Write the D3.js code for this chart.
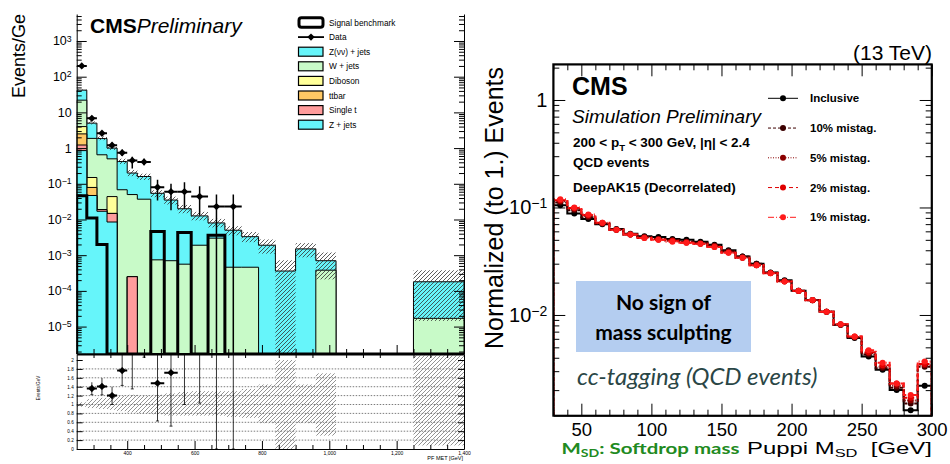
<!DOCTYPE html>
<html><head><meta charset="utf-8">
<script src="https://cdn.jsdelivr.net/npm/d3@7"></script>
<style>body{margin:0;background:#fff}svg{display:block}</style>
</head><body><svg id="c" width="950" height="464"></svg>
<script>
// ================= LEFT CHART DATA (PF MET) =================
const metEdges = [250,280,310,340,370,400,430,470,510,550,590,640,690,740,790,840,900,960,1020,1250,1400];
const zJets   = [0.85,0.047,0.017,0.0085,0,0,0,0,0,0,0,0,0,0,0,0,0,0,0,0];
const singleT = [0.37,0,0.002,0.0063,0,0.00025,0,0,0,0,0,0,0,0,0,0,0,0,0,0];
const ttbar   = [1.28,0.032,0,0,0,0,0,0,0,0,0,0,0,0,0,0,0,0,0,0];
const diboson = [1.5,0.071,0,0.029,0,0,0,0,0,0,0,0,0,0,0,0,0,0,0,0];
const wJets   = [18,1.72,0.63,0.456,0.068,0.0497,0.037,0.00074,0.0007,0.00056,0.0019,0.003,0.00046,0.00046,0,0,0,0.00038,0,0.000017];
const zNuNu   = [20,3.13,1.2,0.5,0.352,0.15,0.123,0.0533,0.0343,0.0194,0.0107,0.005,0.00454,0.00284,0.0019,0.00036,0.0015,0.00032,0,0.000163];
const signalBM= [0.046,0.011,0.002,0,0,0,0,0.0046,0,0.0043,0,0.0036,0,0,0,0,0,0,0,0];
const uncDn   = [0.05,0.08,0.1,0.12,0.15,0.18,0.2,0.22,0.25,0.25,0.25,0.25,0.28,0.3,0.42,1.0,0.42,0.7,0,0.92];
const uncUp   = [0.05,0.12,0.15,0.2,0.2,0.22,0.2,0.22,0.25,0.28,0.3,0.3,0.3,0.35,0.45,1.0,0.45,0.7,0,1.1];
const dataVal = [200,6.8,2.6,1.2,0.74,0.45,0.41,0.08,0.06,0.06,0.044,0.023,0.023];
const dataLo  = [186,6.1,2.25,1.0,0.6,0.27,0.33,0.034,0.018,0.02,0.013,0,0];
const dataHi  = [214,7.5,2.95,1.4,0.9,0.57,0.5,0.13,0.1,0.11,0.085,0.05,0.05];
const stackNames  = ["Z + jets","Single t","ttbar","Diboson","W + jets","Z(νν) + jets"];
const stackColors = ["#66f5fa","#ff9c9c","#ffc864","#ffff99","#c8fac8","#66f5fa"];
const legendNames = ["Signal benchmark","Data","Z(νν) + jets","W + jets","Diboson","ttbar","Single t","Z + jets"];
const metTicks = [400,600,800,1000,1200,1400];
const ratioTicks = [0,0.2,0.4,0.6,0.8,1,1.2,1.4,1.6,1.8,2];

// ================= RIGHT CHART DATA (Softdrop mass) =================
const msdCenters = [35,45,55,65,75,85,95,105,115,125,135,145,155,165,175,185,195,205,215,225,235,245,255,265,275,285,295];
const inclusive = [0.105,0.088,0.078,0.070,0.063,0.057,0.054,0.053,0.051,0.050,0.048,0.045,0.040,0.035,0.030,0.0248,0.021,0.0168,0.0138,0.0107,0.0081,0.0061,0.0041,0.0031,0.0020,0.0013,0.0022];
const mis10 = [0.111,0.094,0.081,0.071,0.062,0.056,0.053,0.051,0.050,0.048,0.047,0.044,0.039,0.035,0.030,0.0247,0.0207,0.0168,0.0137,0.0107,0.0081,0.0062,0.0043,0.0032,0.0021,0.0015,0.0033];
const mis5  = [0.114,0.097,0.083,0.071,0.062,0.056,0.053,0.051,0.049,0.048,0.046,0.044,0.039,0.034,0.029,0.0246,0.0206,0.0167,0.0137,0.0107,0.0081,0.0062,0.0044,0.0033,0.0022,0.0016,0.0034];
const mis2  = [0.117,0.099,0.085,0.072,0.062,0.056,0.052,0.050,0.049,0.047,0.046,0.043,0.038,0.034,0.029,0.0245,0.0205,0.0167,0.0137,0.0107,0.0082,0.0063,0.0045,0.0034,0.0023,0.0017,0.0035];
const mis1  = [0.119,0.100,0.086,0.072,0.062,0.056,0.052,0.050,0.048,0.047,0.046,0.043,0.038,0.034,0.029,0.0245,0.0205,0.0168,0.0138,0.0107,0.0082,0.0063,0.0047,0.0036,0.0023,0.0018,0.0037];
const seriesNames  = ["Inclusive","10% mistag.","5% mistag.","2% mistag.","1% mistag."];
const seriesColors = ["#000000","#3c0000","#8b0000","#e00000","#ff1a1a"];
const seriesDash   = [null,"3,2","1,1.5","4,3","6,2,1,2"];
const msdTicks = [50,100,150,200,250,300];

// ================= DRAW =================
const FONT = "'Liberation Sans', Arial, Helvetica, sans-serif";
const SLIDE = "Lato, 'Open Sans', sans-serif";
const svg = d3.select("#c").attr("font-family", FONT);
const defs = svg.append("defs");
function hatch(id, color, sw){
  defs.append("pattern").attr("id",id).attr("patternUnits","userSpaceOnUse").attr("width",4).attr("height",4)
    .append("path").attr("d","M-1,1 l2,-2 M0,4 l4,-4 M3,5 l2,-2").attr("stroke",color).attr("stroke-width",sw).attr("fill","none");
}
hatch("hMain","#333",0.8);
hatch("hRatio","#777",0.8);
function fitWidth(sel, x, y, w){
  const len = sel.node().getComputedTextLength();
  sel.attr("transform",`translate(${x},${y}) scale(${w/len},1)`);
}

// ---------- LEFT ----------
const L = {x0:76.7, x1:464, yTop:14, yMid:354, yBot:449};
const xL = d3.scaleLinear().domain([250,1400]).range([L.x0,L.x1]);
const yL = d3.scaleLog().domain([Math.pow(10,-5.768),Math.pow(10,3.756)]).range([L.yMid,L.yTop]).clamp(true);
const ly = v => v>0 ? yL(v) : L.yMid;
const yRt = d3.scaleLinear().domain([0,2.135]).range([L.yBot,L.yMid]);
const nb = metEdges.length-1;
const comps = [zJets,singleT,ttbar,diboson,wJets,zNuNu];
const cum = comps.map((c,k)=>d3.range(nb).map(i=>d3.sum(comps.slice(0,k+1),a=>a[i])));
const total = cum[5];

defs.append("clipPath").attr("id","clipMain").append("rect").attr("x",L.x0).attr("y",L.yTop).attr("width",L.x1-L.x0).attr("height",L.yMid-L.yTop);
defs.append("clipPath").attr("id","clipRatio").append("rect").attr("x",L.x0).attr("y",L.yMid).attr("width",L.x1-L.x0).attr("height",L.yBot-L.yMid);

const gM = svg.append("g").attr("clip-path","url(#clipMain)");
function stepPts(vals){ const p=[]; vals.forEach((v,i)=>{p.push([metEdges[i],v]);p.push([metEdges[i+1],v]);}); return p; }
const area = d3.area().x(d=>xL(d[0])).y0(L.yMid).y1(d=>ly(d[1]));
for(let k=5;k>=0;k--){
  gM.append("path").attr("d",area(stepPts(cum[k]))).attr("fill",stackColors[k]).attr("stroke","#000").attr("stroke-width",1);
}
gM.selectAll("rect.unc").data(d3.range(nb).filter(i=>total[i]>0)).join("rect")
  .attr("x",i=>xL(metEdges[i])).attr("width",i=>xL(metEdges[i+1])-xL(metEdges[i]))
  .attr("y",i=>ly(total[i]*(1+uncUp[i]))).attr("height",i=>ly(total[i]*(1-uncDn[i]))-ly(total[i]*(1+uncUp[i])))
  .attr("fill","url(#hMain)");
const sigPts=[[metEdges[0],0]].concat(stepPts(signalBM));
gM.append("path").attr("d",d3.line().x(d=>xL(d[0])).y(d=>ly(d[1]))(sigPts))
  .attr("fill","none").attr("stroke","#000").attr("stroke-width",3).attr("stroke-linejoin","miter");
const diamond = d3.symbol().type(d3.symbolDiamond2 || d3.symbolDiamond).size(34);
const gD = gM.append("g");
dataVal.forEach((v,i)=>{
  const xc = xL((metEdges[i]+metEdges[i+1])/2);
  gD.append("line").attr("x1",xL(metEdges[i])).attr("x2",xL(metEdges[i+1])).attr("y1",ly(v)).attr("y2",ly(v)).attr("stroke","#000").attr("stroke-width",2);
  gD.append("line").attr("x1",xc).attr("x2",xc).attr("y1",ly(dataLo[i])).attr("y2",ly(dataHi[i])).attr("stroke","#000").attr("stroke-width",1.5);
  gD.append("path").attr("d",diamond).attr("transform",`translate(${xc},${ly(v)})`).attr("fill","#000");
});
// ratio panel
const gR = svg.append("g").attr("clip-path","url(#clipRatio)");
ratioTicks.slice(1,-1).forEach(t=>{
  gR.append("line").attr("x1",L.x0).attr("x2",L.x1).attr("y1",yRt(t)).attr("y2",yRt(t)).attr("stroke","#444").attr("stroke-width",0.7).attr("stroke-dasharray","1.5,1.5");
});
gR.selectAll("rect.runc").data(d3.range(nb).filter(i=>total[i]>0)).join("rect")
  .attr("x",i=>xL(metEdges[i])).attr("width",i=>xL(metEdges[i+1])-xL(metEdges[i]))
  .attr("y",i=>yRt(1+uncUp[i])).attr("height",i=>yRt(1-uncDn[i])-yRt(1+uncUp[i]))
  .attr("fill","url(#hRatio)");
dataVal.forEach((v,i)=>{
  const xc = xL((metEdges[i]+metEdges[i+1])/2), t=total[i];
  const r=v/t;
  gR.append("line").attr("x1",xc).attr("x2",xc).attr("y1",yRt(dataLo[i]/t)).attr("y2",yRt(Math.min(dataHi[i]/t,3))).attr("stroke","#000").attr("stroke-width",0.8);
  gR.append("line").attr("x1",xc-1.5).attr("x2",xc+1.5).attr("y1",yRt(dataLo[i]/t)).attr("y2",yRt(dataLo[i]/t)).attr("stroke","#000").attr("stroke-width",0.8);
  if(r<2.13){
    gR.append("line").attr("x1",xL(metEdges[i])).attr("x2",xL(metEdges[i+1])).attr("y1",yRt(r)).attr("y2",yRt(r)).attr("stroke","#000").attr("stroke-width",2);
    gR.append("path").attr("d",diamond).attr("transform",`translate(${xc},${yRt(r)})`).attr("fill","#000");
  }
});

// axes left chart
function minorLog(lo,hi){ const a=[]; for(let e=Math.floor(Math.log10(lo));e<=Math.ceil(Math.log10(hi));e++) for(let m=2;m<=9;m++){const v=m*Math.pow(10,e); if(v>=lo&&v<=hi)a.push(v);} return a; }
function supLabels(g, fs){
  g.selectAll(".tick text").each(function(d){
    const e=Math.round(Math.log10(d)); const t=d3.select(this); t.text(null);
    if(e===0) t.text("1"); else if(e===1) t.text("10");
    else { t.append("tspan").text("10"); t.append("tspan").attr("dy","-0.45em").attr("font-size",(fs*0.7)+"px").text(e<0?"\u2212"+(-e):String(e)); }
  });
}
const decL = d3.range(-5,4).map(e=>Math.pow(10,e));
const minL = minorLog(yL.domain()[0],yL.domain()[1]);
const axY = svg.append("g").attr("transform",`translate(${L.x0},0)`)
  .call(d3.axisLeft(yL).tickValues(decL).tickSize(-10).tickSizeOuter(0).tickPadding(5).tickFormat(()=>""));
axY.selectAll("text").attr("font-size","12.5px").attr("font-family",FONT);
supLabels(axY,12.5);
svg.append("g").attr("transform",`translate(${L.x0},0)`).call(d3.axisLeft(yL).tickValues(minL).tickSize(-5).tickSizeOuter(0).tickFormat(()=>"")).select(".domain").remove();
svg.append("g").attr("transform",`translate(${L.x1},0)`).call(d3.axisRight(yL).tickValues(decL).tickSize(-10).tickSizeOuter(0).tickFormat(()=>""));
svg.append("g").attr("transform",`translate(${L.x1},0)`).call(d3.axisRight(yL).tickValues(minL).tickSize(-5).tickSizeOuter(0).tickFormat(()=>"")).select(".domain").remove();
const axRy = svg.append("g").attr("transform",`translate(${L.x0},0)`)
  .call(d3.axisLeft(yRt).tickValues(ratioTicks).tickSize(-6).tickSizeOuter(0).tickPadding(3).tickFormat(d=>d===0||d===1||d===2?String(d):d3.format(".1f")(d)));
axRy.selectAll("text").attr("font-size","4.6px").attr("font-family",FONT);
svg.append("g").attr("transform",`translate(${L.x1},0)`).call(d3.axisRight(yRt).tickValues(ratioTicks).tickSize(-6).tickSizeOuter(0).tickFormat(()=>""));
const metMinor = d3.range(300,1400,50).filter(v=>!metTicks.includes(v));
svg.append("g").attr("transform",`translate(0,${L.yMid})`).call(d3.axisBottom(xL).tickValues(metTicks).tickSize(-9).tickSizeOuter(0).tickFormat(()=>"")).select(".domain").attr("stroke-width",2.2);
svg.append("g").attr("transform",`translate(0,${L.yMid})`).call(d3.axisBottom(xL).tickValues(metMinor).tickSize(-5).tickSizeOuter(0).tickFormat(()=>"")).select(".domain").remove();
const axX = svg.append("g").attr("transform",`translate(0,${L.yBot})`).call(d3.axisBottom(xL).tickValues(metTicks).tickSize(-8).tickSizeOuter(0).tickPadding(2.5));
axX.selectAll("text").attr("font-size","5px").attr("font-family",FONT);
svg.append("g").attr("transform",`translate(0,${L.yBot})`).call(d3.axisBottom(xL).tickValues(metMinor).tickSize(-4).tickSizeOuter(0).tickFormat(()=>"")).select(".domain").remove();
svg.append("g").attr("transform",`translate(0,${L.yMid})`).call(d3.axisTop(xL).tickValues(metMinor).tickSize(-4).tickSizeOuter(0).tickFormat(()=>"")).select(".domain").remove();

// left texts
svg.append("text").attr("transform","translate(25,98) rotate(-90)").attr("font-size","18px").text("Events/Ge");
svg.append("text").attr("transform","translate(40,388) rotate(-90)").attr("font-size","4.6px").attr("text-anchor","middle").text("Events/GeV");
svg.append("text").attr("x",463).attr("y",460).attr("text-anchor","end").attr("font-size","5.5px").text("PF MET [GeV]");
const cmsL = svg.append("text").attr("x",90).attr("y",33).attr("font-size","21px");
cmsL.append("tspan").attr("font-weight","bold").text("CMS");
cmsL.append("tspan").attr("font-style","italic").text("Preliminary");

// left legend
const legY = i=>22.5+i*14.6;
legendNames.forEach((n,i)=>{
  const y=legY(i);
  if(i===0){
    svg.append("rect").attr("x",299).attr("y",y-4.8).attr("width",24).attr("height",9.6).attr("rx",2.5).attr("fill","#fff").attr("stroke","#000").attr("stroke-width",3);
  } else if(i===1){
    svg.append("line").attr("x1",298).attr("x2",324).attr("y1",y).attr("y2",y).attr("stroke","#000").attr("stroke-width",1.8);
    svg.append("path").attr("d",diamond).attr("transform",`translate(311,${y})`).attr("fill","#000");
  } else {
    const k = stackNames.indexOf(n);
    svg.append("rect").attr("x",298.5).attr("y",y-4.5).attr("width",24.5).attr("height",9).attr("fill",stackColors[k]).attr("stroke","#000").attr("stroke-width",1.2);
  }
  svg.append("text").attr("x",329).attr("y",y+3).attr("font-size","8.3px").text(n);
});

// ---------- RIGHT ----------
const R = {x0:553.3, x1:931.7, y0:64.3, y1:415.7};
const xR = d3.scaleLinear().domain([30,300]).range([R.x0,R.x1]);
const yR = d3.scaleLog().domain([Math.pow(10,-2.937),Math.pow(10,0.332)]).range([R.y1,R.y0]).clamp(true);
defs.append("clipPath").attr("id","clipR").append("rect").attr("x",R.x0).attr("y",R.y0).attr("width",R.x1-R.x0).attr("height",R.y1-R.y0);

svg.append("rect").attr("x",576).attr("y",281).attr("width",175).attr("height",71).attr("fill","#b4cdf0");
svg.append("text").attr("x",663.5).attr("y",310).attr("text-anchor","middle").attr("font-family",SLIDE).attr("font-weight","bold").attr("font-size","21px").text("No sign of");
svg.append("text").attr("x",663.5).attr("y",340).attr("text-anchor","middle").attr("font-family",SLIDE).attr("font-weight","bold").attr("font-size","21px").text("mass sculpting");
svg.append("text").attr("x",577).attr("y",385).attr("font-family",SLIDE).attr("font-style","italic").attr("font-size","24px").attr("fill","#2a4646").text("cc-tagging (QCD events)");

const gS = svg.append("g").attr("clip-path","url(#clipR)");
const allSeries = [inclusive,mis10,mis5,mis2,mis1];
const sline = d3.line().x(d=>xR(d[0])).y(d=>d[1]>0?yR(d[1]):R.y1);
allSeries.forEach((vals,s)=>{
  const pts=[[30,0]]; vals.forEach((v,i)=>{pts.push([msdCenters[i]-5,v]);pts.push([msdCenters[i]+5,v]);});
  pts.push([300,0]);
  gS.append("path").attr("d",sline(pts)).attr("fill","none").attr("stroke",seriesColors[s]).attr("stroke-width",2)
    .attr("stroke-dasharray",seriesDash[s]);
  gS.selectAll(null).data(vals).join("circle").attr("cx",(v,i)=>xR(msdCenters[i])).attr("cy",v=>yR(v)).attr("r",3).attr("fill",seriesColors[s]);
});

const decR=[0.01,0.1,1], minR=minorLog(yR.domain()[0],yR.domain()[1]);
const axYR = svg.append("g").attr("transform",`translate(${R.x0},0)`)
  .call(d3.axisLeft(yR).tickValues(decR).tickSize(-12).tickSizeOuter(0).tickPadding(6).tickFormat(()=>""));
axYR.selectAll("text").attr("font-size","20px").attr("font-family",FONT);
supLabels(axYR,20);
svg.append("g").attr("transform",`translate(${R.x0},0)`).call(d3.axisLeft(yR).tickValues(minR).tickSize(-6).tickSizeOuter(0).tickFormat(()=>"")).select(".domain").remove();
svg.append("g").attr("transform",`translate(${R.x1},0)`).call(d3.axisRight(yR).tickValues(decR).tickSize(-12).tickSizeOuter(0).tickFormat(()=>""));
svg.append("g").attr("transform",`translate(${R.x1},0)`).call(d3.axisRight(yR).tickValues(minR).tickSize(-6).tickSizeOuter(0).tickFormat(()=>"")).select(".domain").remove();
const msdMinor = d3.range(30,300,10).filter(v=>!msdTicks.includes(v));
const axXR = svg.append("g").attr("transform",`translate(0,${R.y1})`).call(d3.axisBottom(xR).tickValues(msdTicks).tickSize(-12).tickSizeOuter(0).tickPadding(7.5));
axXR.selectAll("text").attr("font-size","18.5px").attr("font-family",FONT).attr("dy","0.68em");
svg.append("g").attr("transform",`translate(0,${R.y1})`).call(d3.axisBottom(xR).tickValues(msdMinor).tickSize(-6).tickSizeOuter(0).tickFormat(()=>"")).select(".domain").remove();
svg.append("g").attr("transform",`translate(0,${R.y0})`).call(d3.axisTop(xR).tickValues(msdTicks).tickSize(-12).tickSizeOuter(0).tickFormat(()=>""));
svg.append("g").attr("transform",`translate(0,${R.y0})`).call(d3.axisTop(xR).tickValues(msdMinor).tickSize(-6).tickSizeOuter(0).tickFormat(()=>"")).select(".domain").remove();
svg.append("rect").attr("x",R.x0).attr("y",R.y0).attr("width",R.x1-R.x0).attr("height",R.y1-R.y0).attr("fill","none").attr("stroke","#000").attr("stroke-width",2);

svg.append("text").attr("x",932).attr("y",60).attr("text-anchor","end").attr("font-size","21px").text("(13 TeV)");
svg.append("text").attr("x",572).attr("y",95).attr("font-size","25px").attr("font-weight","bold").text("CMS");
svg.append("text").attr("x",572).attr("y",123).attr("font-size","19px").attr("font-style","italic").text("Simulation Preliminary");
const t1 = svg.append("text").attr("x",573).attr("y",147).attr("font-size","13.5px").attr("font-weight","bold");
t1.append("tspan").text("200 < p");
t1.append("tspan").attr("dy","4").attr("font-size","9.5px").text("T");
t1.append("tspan").attr("dy","-4").text(" < 300 GeV, |η| < 2.4");
svg.append("text").attr("x",573).attr("y",167).attr("font-size","13.5px").attr("font-weight","bold").text("QCD events");
svg.append("text").attr("x",573).attr("y",192).attr("font-size","13.5px").attr("font-weight","bold").text("DeepAK15 (Decorrelated)");
svg.append("text").attr("transform","translate(503,208) rotate(-90)").attr("text-anchor","middle").attr("font-size","25px").text("Normalized (to 1.) Events");

seriesNames.forEach((n,s)=>{
  const y = 98.3 + s*29.75;
  svg.append("line").attr("x1",768).attr("x2",798).attr("y1",y).attr("y2",y).attr("stroke",seriesColors[s]).attr("stroke-width",1).attr("stroke-dasharray",seriesDash[s]);
  svg.append("circle").attr("cx",783).attr("cy",y).attr("r",3).attr("fill",seriesColors[s]);
  svg.append("text").attr("x",810).attr("y",y+4).attr("font-size","11.5px").attr("font-weight","bold").text(n);
});

// bottom x label (slide text, horizontally stretched like the reference)
const xl1 = svg.append("text").attr("font-family",SLIDE).attr("font-weight","bold").attr("font-size","16px").attr("fill","#218a21");
xl1.append("tspan").text("M");
xl1.append("tspan").attr("dy","3.5").attr("font-size","11px").text("SD");
xl1.append("tspan").attr("dy","-3.5").text(": Softdrop mass");
fitWidth(xl1, 561.5, 453.5, 178);
const xl2 = svg.append("text").attr("font-size","16px");
xl2.append("tspan").text("Puppi M");
xl2.append("tspan").attr("dy","3.5").attr("font-size","11px").text("SD");
xl2.append("tspan").attr("dy","-3.5").attr("xml:space","preserve").text("  [GeV]");
fitWidth(xl2, 747, 453.5, 185);
</script></body></html>
